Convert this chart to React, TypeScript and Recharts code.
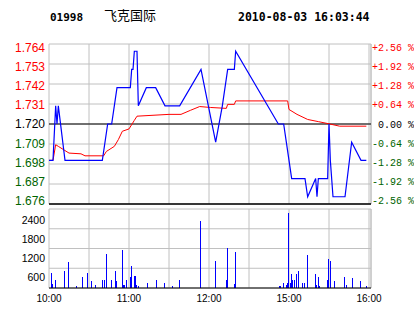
import { LineChart, ComposedChart, Line, Bar, XAxis, YAxis, CartesianGrid, ReferenceLine } from 'recharts';

const PREV_CLOSE = 1.72;

// minute index from 10:00 (12:30 and 14:30 share index 150)
const TIME_TICKS = [0, 30, 60, 90, 120, 150, 180, 210, 240];
const TIME_LABELS: Record<number, string> = { 0: '10:00', 60: '11:00', 120: '12:00', 180: '15:00', 240: '16:00' };

const PRICE_TICKS = [1.676, 1.687, 1.698, 1.709, 1.72, 1.731, 1.742, 1.753, 1.764];
const VOL_TICKS = [0, 600, 1200, 1800, 2400];

const priceMinutes = [0, 3, 5, 6, 7, 12, 40, 44, 47, 51, 61, 62, 63, 64, 66, 67, 73, 80, 87, 98, 114, 125, 130, 134, 139, 140, 172, 175, 176, 178, 180, 182, 192, 194, 200, 201, 202, 209, 210, 211, 213, 222, 227, 234, 238];
const priceValues = [1.70, 1.70, 1.73, 1.72, 1.73, 1.70, 1.70, 1.72, 1.72, 1.74, 1.74, 1.75, 1.75, 1.76, 1.76, 1.73, 1.74, 1.74, 1.73, 1.73, 1.75, 1.71, 1.73, 1.75, 1.75, 1.76, 1.72, 1.72, 1.72, 1.71, 1.70, 1.69, 1.69, 1.68, 1.69, 1.68, 1.69, 1.69, 1.72, 1.70, 1.68, 1.68, 1.71, 1.70, 1.70];

const avgMinutes = [0, 3, 5, 7, 15, 24, 27, 41, 43, 49, 52, 55, 60, 64, 66, 90, 99, 106, 113, 121, 133, 134, 139, 140, 179, 180, 186, 194, 202, 210, 218, 238];
const avgValues = [1.700, 1.700, 1.7086, 1.7077, 1.704, 1.7036, 1.7025, 1.7025, 1.7049, 1.7077, 1.7114, 1.716, 1.7173, 1.722, 1.7243, 1.7253, 1.7253, 1.7275, 1.7296, 1.7291, 1.7286, 1.7308, 1.7308, 1.7327, 1.7327, 1.728, 1.7253, 1.7225, 1.7213, 1.7201, 1.7188, 1.7188];

const volMinutes = [2, 3, 5, 12, 15, 21, 25, 29, 32, 35, 40, 42, 43, 47, 50, 51, 55, 56, 57, 58, 61, 62, 64, 65, 66, 67, 74, 81, 87, 93, 98, 114, 125, 133, 134, 139, 140, 173, 174, 176, 178, 179, 180, 181, 182, 183, 184, 186, 187, 190, 192, 194, 200, 201, 202, 203, 209, 210, 211, 214, 222, 223, 228, 234, 238];
const volValues = [460, 120, 250, 530, 790, 70, 340, 470, 220, 100, 250, 250, 1040, 250, 530, 200, 1160, 100, 100, 250, 340, 660, 370, 370, 100, 70, 160, 250, 160, 70, 250, 2050, 830, 250, 1220, 130, 1100, 70, 70, 160, 100, 160, 2290, 160, 430, 250, 250, 430, 530, 160, 160, 1010, 430, 100, 340, 70, 250, 890, 830, 220, 340, 100, 310, 220, 70];

const priceData = priceMinutes.map((m, i) => ({ m, p: priceValues[i] }));
const avgData = avgMinutes.map((m, i) => ({ m, p: avgValues[i] }));
const volData = volMinutes.map((m, i) => ({ m, v: volValues[i] }));

const X_DOMAIN = [0, 241.5];
const GRID = '#c0c0c0';
const RED = '#ff0000';
const GREEN = '#006400';
const BLUE = '#0000ff';

function colorFor(v: number) {
  if (v > PREV_CLOSE + 0.0001) return RED;
  if (v < PREV_CLOSE - 0.0001) return GREEN;
  return '#000';
}

const LeftTick = (props: any) => {
  const { x, y, payload } = props;
  const v = payload.value;
  const cy = y + (124 - y) * 0.04;
  return (
    <text x={x - 4} y={cy + 4.3} textAnchor="end" fill={colorFor(v)} fontSize={12} fontFamily="'Liberation Sans', Arial, sans-serif">
      {v.toFixed(3)}
    </text>
  );
};

const RightTick = (props: any) => {
  const { x, y, payload } = props;
  const v = payload.value;
  const pct = ((v - PREV_CLOSE) / PREV_CLOSE) * 100;
  const sign = pct > 0.001 ? '+' : pct < -0.001 ? '-' : ' ';
  const cy = y + (124 - y) * 0.04;
  return (
    <text x={x + 1} y={cy + 3.6} textAnchor="start" fill={colorFor(v)} fontSize={10} fontFamily="'Liberation Mono', 'DejaVu Sans Mono', monospace" style={{ whiteSpace: 'pre' }}>
      {sign + Math.abs(pct).toFixed(2) + ' %'}
    </text>
  );
};

const VolTick = (props: any) => {
  const { x, y, payload } = props;
  if (payload.value === 0) return <g />;
  return (
    <text x={x - 4} y={y + (288 - y) * 0.04 + 3.8} textAnchor="end" fill="#000" fontSize={10.5} fontFamily="'Liberation Sans', Arial, sans-serif">
      {payload.value}
    </text>
  );
};

const TimeTick = (props: any) => {
  const { x, y, payload } = props;
  const label = TIME_LABELS[payload.value];
  if (!label) return <g />;
  return (
    <text x={x} y={y + 14} textAnchor="middle" fill="#000" fontSize={10} fontFamily="'Liberation Sans', Arial, sans-serif">
      {label}
    </text>
  );
};

export default function App() {
  return (
    <div style={{ position: 'absolute', left: 0, top: 0, width: 414, height: 314, background: '#fff' }}>
      <svg width={414} height={30} style={{ position: 'absolute', left: 0, top: 0 }}>
        <text x={50} y={20.5} fontSize={11} fontWeight="bold" fontFamily="'DejaVu Sans Mono', monospace">01998</text>
        <text x={104} y={19.5} fontSize={13} fontFamily="'Noto Sans CJK SC', sans-serif">飞克国际</text>
        <text x={238} y={20.5} fontSize={11.5} fontWeight="bold" fontFamily="'DejaVu Sans Mono', monospace">2010-08-03 16:03:44</text>
      </svg>

      <div style={{ position: 'absolute', left: 0, top: 0 }}>
        <LineChart width={414} height={210} margin={{ top: 44, right: 0, bottom: 6, left: 0 }}>
          <CartesianGrid yAxisId="left" stroke={GRID} />
          <XAxis type="number" dataKey="m" domain={X_DOMAIN} ticks={TIME_TICKS} allowDataOverflow hide />
          <YAxis yAxisId="left" domain={[1.676, 1.764]} ticks={PRICE_TICKS} interval={0} width={49} allowDataOverflow
            axisLine={false} tickLine={false} tickSize={0} tickMargin={0} tick={LeftTick} />
          <YAxis yAxisId="right" orientation="right" domain={[1.676, 1.764]} ticks={PRICE_TICKS} interval={0} width={43} allowDataOverflow
            axisLine={false} tickLine={false} tickSize={0} tickMargin={0} tick={RightTick} />
          <ReferenceLine yAxisId="left" x={241.5} stroke={GRID} />
          <ReferenceLine yAxisId="left" y={1.72} stroke="#000" />
          <ReferenceLine yAxisId="left" y={1.676} stroke="#000" strokeWidth={1.5} />
          <Line yAxisId="left" data={avgData} dataKey="p" type="linear" stroke={RED} strokeWidth={1} dot={false} isAnimationActive={false} />
          <Line yAxisId="left" data={priceData} dataKey="p" type="linear" stroke={BLUE} strokeWidth={1.2} dot={false} isAnimationActive={false} />
        </LineChart>
      </div>

      <div style={{ position: 'absolute', left: 0, top: 200 }}>
        <ComposedChart width={414} height={114} data={volData} margin={{ top: 9, right: 43, bottom: 0, left: 0 }}>
          <CartesianGrid stroke={GRID} />
          <XAxis type="number" dataKey="m" domain={X_DOMAIN} ticks={TIME_TICKS} interval={0} height={26} allowDataOverflow
            axisLine={false} tickLine={false} tickSize={0} tickMargin={0} tick={TimeTick} />
          <YAxis domain={[0, 2400]} ticks={VOL_TICKS} interval={0} width={49} allowDataOverflow
            axisLine={false} tickLine={false} tickSize={0} tickMargin={0} tick={VolTick} />
          <ReferenceLine x={241.5} stroke={GRID} />
          <Bar dataKey="v" fill={BLUE} barSize={1} shapeRendering="crispEdges" isAnimationActive={false} />
          <ReferenceLine y={0} stroke="#000" />
        </ComposedChart>
      </div>
    </div>
  );
}
